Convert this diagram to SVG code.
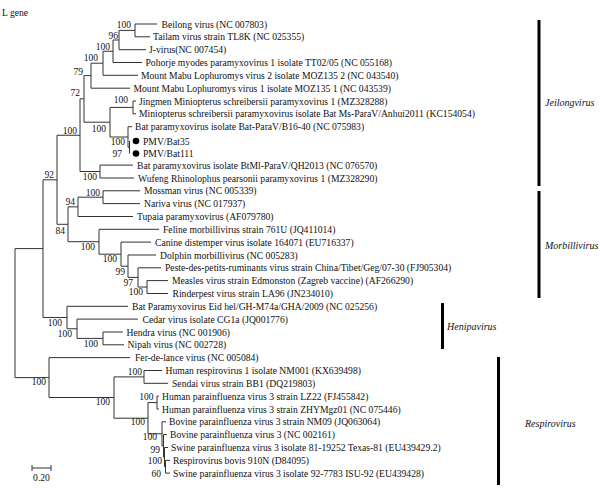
<svg xmlns="http://www.w3.org/2000/svg" width="600" height="488" viewBox="0 0 600 488">
<style>
.br{fill:none;stroke:#333;stroke-width:1}
.lf{font-family:"Liberation Serif",serif;font-size:9.65px;fill:#111}
.bs{font-family:"Liberation Serif",serif;font-size:9.5px;fill:#111;text-anchor:end}
.cl{font-family:"Liberation Serif",serif;font-size:10px;font-style:italic;fill:#111}
.bar{fill:#000}
</style>
<rect width="600" height="488" fill="#fff"/>
<text class="lf" x="2" y="16" font-size="10">L gene</text>
<g id="connectors" class="br">
<path d="M15,248.6V377.6M15,248.6H43M43,179.8V317.5M43,179.8H57M57,135.25V224.3M57,135.25H80M80,98.8V171.5M80,98.8H84M84,75.6V122.2M84,75.6H91M91,63.2V88.2M91,63.2H103M103,51.25V75.3M103,51.25H113M113,40V62.5M113,40H119M119,30.4V49.7M119,30.4H135M135,24V36.8"/>
<path d="M135,24H157M135,36.8H150M119,49.7H146M113,62.5H142M103,75.3H138M91,88.2H130"/>
<path d="M84,122.2H110M110,107.4V137M110,107.4H133M133,101V113.8M133,101H136M133,113.8H136M110,137H128M128,126.7V147.25M128,126.7H132M128,147.25H129.5M129.5,141V153.5"/>
<path d="M80,171.5H100M100,165.1V178M100,165.1H133M100,178H134"/>
<path d="M57,224.3H68M68,206.85V241.7M68,206.85H78M78,197.2V216.5M78,197.2H103M103,190.8V203.6M103,190.8H140M103,203.6H140M78,216.5H133"/>
<path d="M68,241.7H99M99,229.3V254.2M99,229.3H159M99,254.2H121M121,242.1V266.2M121,242.1H151M121,266.2H128M128,255V277.4M128,255H156M128,277.4H138M138,267.8V287.05M138,267.8H161M138,287.05H147M147,280.6V293.5M147,280.6H168M147,293.5H168"/>
<path d="M43,317.5H67M67,306.3V328.75M67,306.3H128M67,328.75H77M77,319.1V338.4M77,319.1H138M77,338.4H103M103,332V344.8M103,332H123M103,344.8H124"/>
<path d="M15,377.6H49M49,357.6V397.5M49,357.6H130M49,397.5H114M114,376.9V418.2M114,376.9H144M144,370.5V383.3M144,370.5H162M144,383.3H168"/>
<path d="M114,418.2H148M148,402.55V433.8M148,402.55H157M157,396.1V409M157,396.1H159M157,409H159M148,433.8H162M162,421.8V445.85M162,421.8H166M162,445.85H163.5M163.5,434.6V457.1M163.5,434.6H167M163.5,457.1H164.5M164.5,447.5V466.7M164.5,447.5H168M164.5,466.7H165.5M165.5,460.3V473.1M165.5,460.3H170M165.5,473.1H170"/>
</g>
<g id="support">
<text class="bs" x="131" y="28">100</text>
<text class="bs" x="118" y="39">96</text>
<text class="bs" x="110" y="50">100</text>
<text class="bs" x="98" y="61">100</text>
<text class="bs" x="83" y="75">79</text>
<text class="bs" x="80" y="96">72</text>
<text class="bs" x="128" y="103">100</text>
<text class="bs" x="77" y="133.5">100</text>
<text class="bs" x="106" y="131.5">100</text>
<text class="bs" x="125" y="145">100</text>
<text class="bs" x="122" y="157">97</text>
<text class="bs" x="97" y="179.5">100</text>
<text class="bs" x="54" y="178">92</text>
<text class="bs" x="100" y="195.5">100</text>
<text class="bs" x="75" y="204.5">94</text>
<text class="bs" x="65" y="234">84</text>
<text class="bs" x="95" y="249.5">100</text>
<text class="bs" x="117" y="261.5">100</text>
<text class="bs" x="125" y="274.5">99</text>
<text class="bs" x="133" y="285.5">97</text>
<text class="bs" x="143" y="295">100</text>
<text class="bs" x="62" y="326">100</text>
<text class="bs" x="72" y="337">100</text>
<text class="bs" x="98" y="347">100</text>
<text class="bs" x="46" y="385">100</text>
<text class="bs" x="110" y="405">100</text>
<text class="bs" x="142" y="374.5">100</text>
<text class="bs" x="153.5" y="400">100</text>
<text class="bs" x="145" y="425">100</text>
<text class="bs" x="157" y="440">100</text>
<text class="bs" x="160" y="452.5">99</text>
<text class="bs" x="162" y="464">100</text>
<text class="bs" x="161" y="476.5">60</text>
</g>
<g id="leaf-beilong"><text class="lf" x="161.5" y="27.5">Beilong virus (NC 007803)</text></g>
<g id="leaf-tailam"><text class="lf" x="153" y="40.3">Tailam virus strain TL8K (NC 025355)</text></g>
<g id="leaf-jvirus"><text class="lf" x="149" y="53.2">J-virus(NC 007454)</text></g>
<g id="leaf-pohorje"><text class="lf" x="145.5" y="66">Pohorje myodes paramyxovirus 1 isolate TT02/05 (NC 055168)</text></g>
<g id="leaf-mmabu2"><text class="lf" x="141" y="78.8">Mount Mabu Lophuromys virus 2 isolate MOZ135 2 (NC 043540)</text></g>
<g id="leaf-mmabu1"><text class="lf" x="133.5" y="91.7">Mount Mabu Lophuromys virus 1 isolate MOZ135 1 (NC 043539)</text></g>
<g id="leaf-jingmen"><text class="lf" x="139" y="104.5">Jingmen Miniopterus schreibersii paramyxovirus 1 (MZ328288)</text></g>
<g id="leaf-miniopterus"><text class="lf" x="139" y="117.3">Miniopterus schreibersii paramyxovirus isolate Bat Ms-ParaV/Anhui2011 (KC154054)</text></g>
<g id="leaf-b1640"><text class="lf" x="135" y="130.2">Bat paramyxovirus isolate Bat-ParaV/B16-40 (NC 075983)</text></g>
<g id="leaf-bat35"><circle cx="136" cy="141" r="3.3" fill="#000"/><text class="lf" x="143" y="144.5">PMV/Bat35</text></g>
<g id="leaf-bat111"><circle cx="136" cy="153.5" r="3.3" fill="#000"/><text class="lf" x="143" y="157">PMV/Bat111</text></g>
<g id="leaf-btml"><text class="lf" x="137" y="168.6">Bat paramyxovirus isolate BtMl-ParaV/QH2013 (NC 076570)</text></g>
<g id="leaf-wufeng"><text class="lf" x="138" y="181.5">Wufeng Rhinolophus pearsonii paramyxovirus 1 (MZ328290)</text></g>
<g id="leaf-mossman"><text class="lf" x="144" y="194.3">Mossman virus (NC 005339)</text></g>
<g id="leaf-nariva"><text class="lf" x="144" y="207.1">Nariva virus (NC 017937)</text></g>
<g id="leaf-tupaia"><text class="lf" x="137" y="220">Tupaia paramyxovirus (AF079780)</text></g>
<g id="leaf-feline"><text class="lf" x="163" y="232.8">Feline morbillivirus strain 761U (JQ411014)</text></g>
<g id="leaf-canine"><text class="lf" x="155" y="245.6">Canine distemper virus isolate 164071 (EU716337)</text></g>
<g id="leaf-dolphin"><text class="lf" x="160" y="258.5">Dolphin morbillivirus (NC 005283)</text></g>
<g id="leaf-peste"><text class="lf" x="165" y="271.3">Peste-des-petits-ruminants virus strain China/Tibet/Geg/07-30 (FJ905304)</text></g>
<g id="leaf-measles"><text class="lf" x="172" y="284.1">Measles virus strain Edmonston (Zagreb vaccine) (AF266290)</text></g>
<g id="leaf-rinderpest"><text class="lf" x="172.5" y="297">Rinderpest virus strain LA96 (JN234010)</text></g>
<g id="leaf-eid"><text class="lf" x="132" y="309.8">Bat Paramyxovirus Eid hel/GH-M74a/GHA/2009 (NC 025256)</text></g>
<g id="leaf-cedar"><text class="lf" x="142.5" y="322.6">Cedar virus isolate CG1a (JQ001776)</text></g>
<g id="leaf-hendra"><text class="lf" x="126.5" y="335.5">Hendra virus (NC 001906)</text></g>
<g id="leaf-nipah"><text class="lf" x="127.5" y="348.3">Nipah virus (NC 002728)</text></g>
<g id="leaf-ferdelance"><text class="lf" x="135" y="361.1">Fer-de-lance virus (NC 005084)</text></g>
<g id="leaf-hrv1"><text class="lf" x="165.5" y="374">Human respirovirus 1 isolate NM001 (KX639498)</text></g>
<g id="leaf-sendai"><text class="lf" x="172" y="386.8">Sendai virus strain BB1 (DQ219803)</text></g>
<g id="leaf-lz22"><text class="lf" x="162" y="399.6">Human parainfluenza virus 3 strain LZ22 (FJ455842)</text></g>
<g id="leaf-zhymgz01"><text class="lf" x="162" y="412.5">Human parainfluenza virus 3 strain ZHYMgz01 (NC 075446)</text></g>
<g id="leaf-nm09"><text class="lf" x="169" y="425.3">Bovine parainfluenza virus 3 strain NM09 (JQ063064)</text></g>
<g id="leaf-bpiv3"><text class="lf" x="170" y="438.1">Bovine parainfluenza virus 3 (NC 002161)</text></g>
<g id="leaf-texas81"><text class="lf" x="171" y="451">Swine parainfluenza virus 3 isolate 81-19252 Texas-81 (EU439429.2)</text></g>
<g id="leaf-910n"><text class="lf" x="173" y="463.8">Respirovirus bovis 910N (D84095)</text></g>
<g id="leaf-isu92"><text class="lf" x="173" y="476.6">Swine parainfluenza virus 3 isolate 92-7783 ISU-92 (EU439428)</text></g>
<g id="clade-jeilong"><rect class="bar" x="537.5" y="20" width="3" height="166"/><text class="cl" x="545" y="106">Jeilongvirus</text></g>
<g id="clade-morbilli"><rect class="bar" x="537.5" y="191" width="3" height="107"/><text class="cl" x="545" y="249">Morbillivirus</text></g>
<g id="clade-henipa"><rect class="bar" x="441" y="303" width="3" height="46"/><text class="cl" x="447" y="330">Henipavirus</text></g>
<g id="clade-respiro"><rect class="bar" x="497" y="357" width="3" height="128"/><text class="cl" x="525" y="427">Respirovirus</text></g>
<g id="scale-bar">
<path class="br" d="M32,468H51M32,465V471M51,465V471"/>
<text class="lf" x="41.5" y="481" text-anchor="middle" font-size="9.5">0.20</text>
</g>
</svg>
